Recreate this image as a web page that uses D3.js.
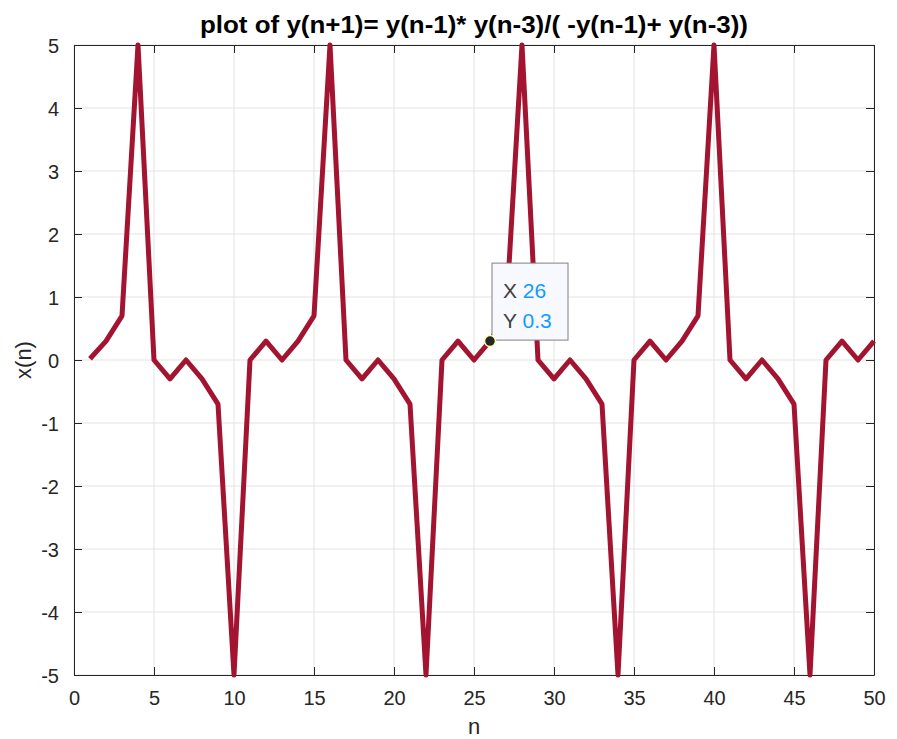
<!DOCTYPE html>
<html>
<head>
<meta charset="utf-8">
<script src="https://cdn.jsdelivr.net/npm/d3@7"></script>
<style>
  body { margin: 0; background: #fff; }
  text { font-family: "Liberation Sans", Arial, sans-serif; }
</style>
</head>
<body>
<div id="chart"></div>
<script>
// chart size and margins
var width = 897;
var height = 739;
var margin = { top: 45, right: 23, bottom: 64, left: 74 };

// data
const nValues = d3.range(1, 51);
const yValues = [
  0.02, 0.3, 0.7, 5, 0, -0.3, 0, -0.3, -0.7, -5,
  0, 0.3, 0, 0.3, 0.7, 5, 0, -0.3, 0, -0.3,
  -0.7, -5, 0, 0.3, 0, 0.3, 0.7, 5, 0, -0.3,
  0, -0.3, -0.7, -5, 0, 0.3, 0, 0.3, 0.7, 5,
  0, -0.3, 0, -0.3, -0.7, -5, 0, 0.3, 0, 0.3
];
const xTicks = [0, 5, 10, 15, 20, 25, 30, 35, 40, 45, 50];
const yTicks = [-5, -4, -3, -2, -1, 0, 1, 2, 3, 4, 5];
const tipIndex = 25; // point n = 26

var data = nValues.map((n, i) => ({ n: n, y: yValues[i] }));

var svg = d3.select("#chart")
  .append("svg")
  .attr("width", width)
  .attr("height", height);

var plotW = width - margin.left - margin.right;
var plotH = height - margin.top - margin.bottom;

var g = svg.append("g")
  .attr("transform", "translate(" + margin.left + "," + margin.top + ")");

var x = d3.scaleLinear().domain([0, 50]).range([0, plotW]);
var y = d3.scaleLinear().domain([-5, 5]).range([plotH, 0]);

// grid lines
g.append("g")
  .selectAll("line")
  .data(xTicks)
  .enter()
  .append("line")
  .attr("x1", d => x(d)).attr("x2", d => x(d))
  .attr("y1", 0).attr("y2", plotH)
  .style("stroke", "#e3e3e3")
  .style("stroke-width", 1);

g.append("g")
  .selectAll("line")
  .data(yTicks)
  .enter()
  .append("line")
  .attr("x1", 0).attr("x2", plotW)
  .attr("y1", d => y(d)).attr("y2", d => y(d))
  .style("stroke", "#e3e3e3")
  .style("stroke-width", 1);

// plain hyphen for negatives, like the reference
var fmt = d => String(d);

// axes (ticks pointing inward, MATLAB style)
var xAxis = g.append("g")
  .attr("transform", "translate(0," + plotH + ")")
  .call(d3.axisBottom(x).tickValues(xTicks).tickFormat(fmt).tickSizeInner(-8).tickSizeOuter(0).tickPadding(16));

var yAxis = g.append("g")
  .call(d3.axisLeft(y).tickValues(yTicks).tickFormat(fmt).tickSizeInner(-8).tickSizeOuter(0).tickPadding(15));

var xTop = g.append("g")
  .call(d3.axisTop(x).tickValues(xTicks).tickSizeInner(-8).tickSizeOuter(0).tickFormat(""));

var yRight = g.append("g")
  .attr("transform", "translate(" + plotW + ",0)")
  .call(d3.axisRight(y).tickValues(yTicks).tickSizeInner(-8).tickSizeOuter(0).tickFormat(""));

[xAxis, yAxis, xTop, yRight].forEach(a => {
  a.selectAll("path").style("stroke", "#262626").style("stroke-width", 1);
  a.selectAll("line").style("stroke", "#262626").style("stroke-width", 1);
  a.selectAll("text")
    .style("font-size", "20px")
    .style("fill", "#262626")
    .style("font-family", "'Liberation Sans', Arial, sans-serif");
});
yAxis.selectAll("text").attr("dy", "0.35em");

// the series line
var line = d3.line()
  .x(d => x(d.n))
  .y(d => y(d.y));

g.append("path")
  .datum(data)
  .attr("d", line)
  .style("fill", "none")
  .style("stroke", "#a2142f")
  .style("stroke-width", 5)
  .style("stroke-linejoin", "round")
  .style("stroke-linecap", "butt");

// data tip
var tp = data[tipIndex];
var tx = x(tp.n), ty = y(tp.y);

var tip = g.append("g")
  .attr("transform", "translate(" + (tx + 2) + "," + (ty - 78) + ")");

tip.append("rect")
  .attr("width", 76)
  .attr("height", 77)
  .style("fill", "#f8f8ff")
  .style("stroke", "#808080")
  .style("stroke-width", 1);

var tipText = tip.append("text")
  .attr("x", 11)
  .attr("y", 35)
  .style("font-size", "21px");
tipText.append("tspan").style("fill", "#404040").text("X ");
tipText.append("tspan").style("fill", "#0f9cff").text(tp.n);

var tipText2 = tip.append("text")
  .attr("x", 11)
  .attr("y", 65)
  .style("font-size", "21px");
tipText2.append("tspan").style("fill", "#404040").text("Y ");
tipText2.append("tspan").style("fill", "#0f9cff").text(tp.y);

g.append("circle")
  .attr("cx", tx)
  .attr("cy", ty)
  .attr("r", 5.5)
  .style("fill", "#262626")
  .style("stroke", "#fffbb0")
  .style("stroke-width", 1.5);

// title
svg.append("text")
  .attr("x", 474)
  .attr("y", 33)
  .attr("text-anchor", "middle")
  .attr("textLength", 548)
  .attr("lengthAdjust", "spacingAndGlyphs")
  .style("font-size", "23px")
  .style("font-weight", "bold")
  .style("fill", "#000")
  .text("plot of y(n+1)= y(n-1)* y(n-3)/( -y(n-1)+ y(n-3))");

// x label
svg.append("text")
  .attr("x", margin.left + plotW / 2)
  .attr("y", 734)
  .attr("text-anchor", "middle")
  .style("font-size", "22px")
  .style("fill", "#262626")
  .text("n");

// y label
svg.append("text")
  .attr("transform", "translate(31," + (margin.top + plotH / 2) + ") rotate(-90)")
  .attr("text-anchor", "middle")
  .style("font-size", "22px")
  .style("fill", "#262626")
  .text("x(n)");
</script>
</body>
</html>
